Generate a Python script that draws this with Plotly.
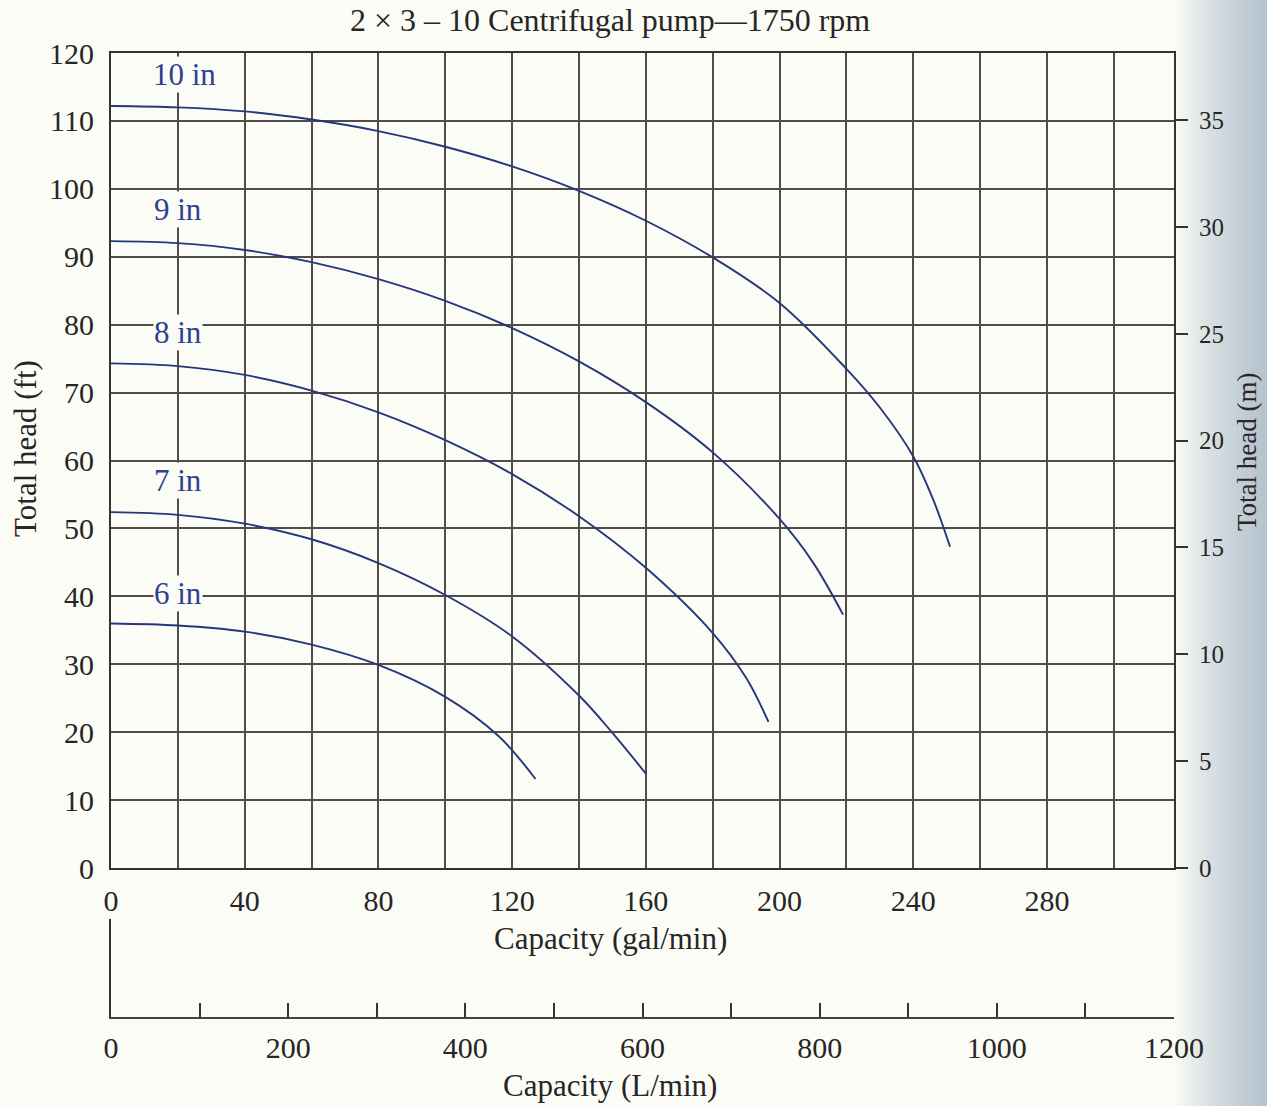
import plotly.graph_objects as go

# ---- data (capacity in gal/min, total head in ft) ----
cap_10 = [0, 20, 40, 60, 80, 100, 120, 140, 160, 180, 200, 220, 230, 240, 246, 251]
head_10 = [112.2, 112.0, 111.4, 110.2, 108.5, 106.2, 103.3, 99.7, 95.3, 89.9, 83.2, 73.5, 67.8, 60.6, 54.2, 47.3]

cap_9 = [0, 20, 40, 60, 80, 100, 120, 140, 160, 180, 200, 210, 219]
head_9 = [92.3, 92.0, 91.0, 89.2, 86.7, 83.5, 79.5, 74.6, 68.6, 61.2, 51.4, 45.0, 37.3]

cap_8 = [0, 20, 40, 60, 80, 100, 120, 140, 160, 180, 190, 196.7]
head_8 = [74.3, 73.9, 72.6, 70.3, 67.1, 63.0, 58.0, 51.8, 44.2, 34.6, 28.0, 21.5]

cap_7 = [0, 20, 40, 60, 80, 100, 120, 140, 150, 160]
head_7 = [52.4, 52.0, 50.7, 48.4, 44.9, 40.2, 34.1, 25.4, 19.9, 13.9]

cap_6 = [0, 20, 40, 60, 80, 100, 116, 127]
head_6 = [36.0, 35.7, 34.8, 32.9, 29.9, 25.2, 19.4, 13.1]

curve_names = ["10 in", "9 in", "8 in", "7 in", "6 in"]
label_x = [22, 20, 20, 20, 20]
label_y = [116.8, 96.9, 78.9, 57.1, 40.4]

gal_ticks = list(range(0, 320, 20))
gal_labels = [str(v) if v % 40 == 0 else "" for v in gal_ticks]
ft_ticks = list(range(0, 130, 10))
m_ticks = list(range(0, 40, 5))
lpm_ticks = list(range(0, 1300, 100))
lpm_labels = [str(v) if v % 200 == 0 else "" for v in lpm_ticks]

FONT = "Liberation Serif"
TXT = "#262626"
GRID = "#514c47"
AX = "#333333"
CURVE = "#26377a"
LBL = "#2e4191"
BG = "#fcfcf7"

fig = go.Figure()
for cx, cy in [(cap_10, head_10), (cap_9, head_9), (cap_8, head_8), (cap_7, head_7), (cap_6, head_6)]:
    fig.add_trace(go.Scatter(x=cx, y=cy, mode="lines",
                             line=dict(color=CURVE, width=1.9, shape="spline", smoothing=1.0),
                             showlegend=False, hoverinfo="skip"))
fig.add_trace(go.Scatter(x=[None], y=[None], yaxis="y2", showlegend=False, hoverinfo="skip"))
fig.add_trace(go.Scatter(x=[None], y=[None], xaxis="x3", yaxis="y3", showlegend=False, hoverinfo="skip"))

for name, lx, ly in zip(curve_names, label_x, label_y):
    fig.add_annotation(x=lx, y=ly, xref="x", yref="y", text=name, showarrow=False,
                       font=dict(family=FONT, size=31, color=LBL), bgcolor=BG, borderpad=0)

W, H = 1267, 1106
ML, MR, MT, MB = 111, 93, 53, 89
PW, PH = W - ML - MR, H - MT - MB


def px(xp):
    return (xp - ML) / PW


def py(yp):
    return (H - MB - yp) / PH


# scanned-page shading at the right edge
for x0 in range(1176, 1262, 5):
    fig.add_shape(type="rect", xref="paper", yref="paper", x0=px(x0), x1=px(W), y0=py(H), y1=py(0),
                  fillcolor="rgb(140,158,176)", opacity=0.04, line=dict(width=0), layer="below")

main_bottom = py(868)
fig.update_layout(
    width=W, height=H,
    margin=dict(l=ML, r=MR, t=MT, b=MB),
    paper_bgcolor=BG, plot_bgcolor=BG,
    font=dict(family=FONT, color=TXT, size=30),
    xaxis=dict(range=[0, 318], tickvals=gal_ticks, ticktext=gal_labels, ticks="",
               showgrid=True, gridcolor=GRID, gridwidth=1.6, zeroline=False,
               showline=True, linecolor=AX, linewidth=2.2, mirror=True,
               tickfont=dict(size=30), ticklabelstandoff=5, anchor="y"),
    yaxis=dict(range=[0, 120], tickvals=ft_ticks, ticks="", domain=[main_bottom, 1],
               showgrid=True, gridcolor=GRID, gridwidth=1.6, zeroline=False,
               showline=True, linecolor=AX, linewidth=2.2, mirror=True,
               tickfont=dict(size=30), ticklabelstandoff=9),
    yaxis2=dict(range=[0, 38.14], tickvals=m_ticks, overlaying="y", side="right", anchor="x",
                ticks="outside", ticklen=12, tickwidth=1.6, tickcolor=AX, showgrid=False, zeroline=False,
                showline=True, linecolor=AX, linewidth=2.2, tickfont=dict(size=25), ticklabelstandoff=6),
    xaxis3=dict(range=[0, 1200], tickvals=lpm_ticks, ticktext=lpm_labels, anchor="y3",
                ticks="inside", ticklen=14, tickwidth=1.6, tickcolor=AX, showgrid=False, zeroline=False,
                showline=True, linecolor="#44443a", linewidth=2.2, tickfont=dict(size=30), ticklabelstandoff=3),
    yaxis3=dict(range=[0, 1], domain=[0, py(919)], anchor="x3", showticklabels=False, ticks="",
                showgrid=False, zeroline=False, showline=True, linecolor=AX, linewidth=2.2),
)

fig.add_annotation(xref="paper", yref="paper", x=px(610), y=py(20), text="2 × 3 – 10 Centrifugal pump—1750 rpm",
                   showarrow=False, font=dict(size=32), xanchor="center", yanchor="middle")
fig.add_annotation(xref="paper", yref="paper", x=px(610), y=py(938), text="Capacity (gal/min)",
                   showarrow=False, font=dict(size=31), xanchor="center", yanchor="middle")
fig.add_annotation(xref="paper", yref="paper", x=px(610), y=py(1085), text="Capacity (L/min)",
                   showarrow=False, font=dict(size=31), xanchor="center", yanchor="middle")
fig.add_annotation(xref="paper", yref="paper", x=px(25), y=py(449), text="Total head (ft)", textangle=-90,
                   showarrow=False, font=dict(size=31), xanchor="center", yanchor="middle")
fig.add_annotation(xref="paper", yref="paper", x=px(1247), y=py(452), text="Total head (m)", textangle=-90,
                   showarrow=False, font=dict(size=27), xanchor="center", yanchor="middle")

fig.write_html("out.html")
